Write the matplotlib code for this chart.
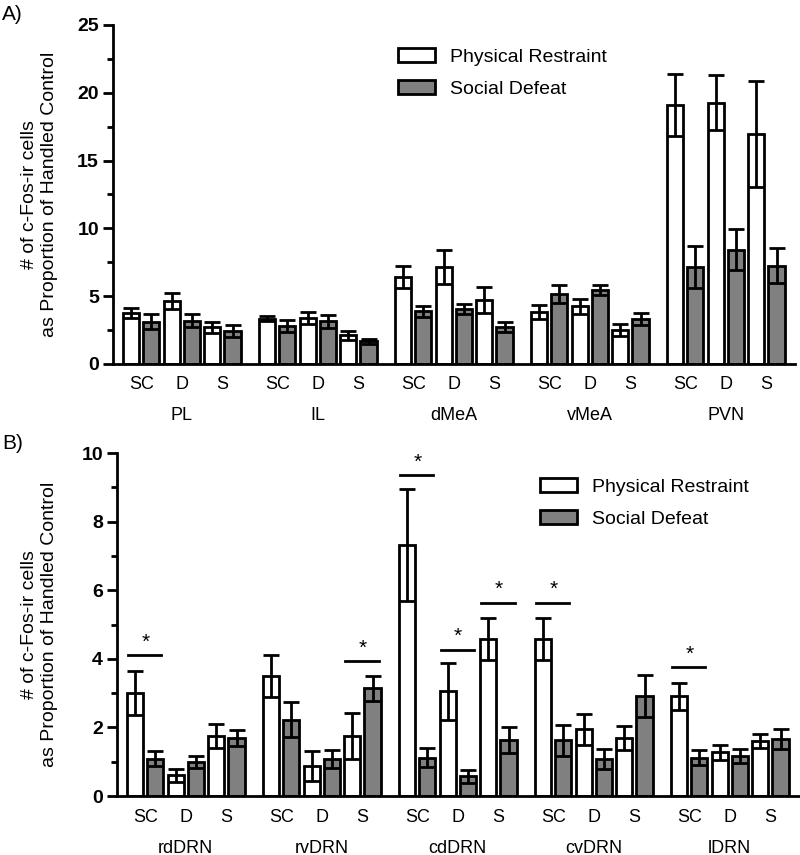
import matplotlib
matplotlib.use("Agg")
import matplotlib.pyplot as plt
import matplotlib.transforms as mtransforms
import numpy as np
from matplotlib.ticker import MultipleLocator

plt.rcParams.update({"font.family": ["Liberation Sans", "DejaVu Sans"]})

conditions = ["SC", "D", "S"]

# Panel A
regions_a = ["PL", "IL", "dMeA", "vMeA", "PVN"]
restraint_a = [3.76, 4.62, 2.70, 3.34, 3.39, 2.11, 6.41, 7.15, 4.69,
               3.83, 4.25, 2.53, 19.10, 19.28, 16.97]
restraint_a_err = [0.35, 0.60, 0.38, 0.20, 0.42, 0.33, 0.83, 1.25, 0.95,
                   0.55, 0.54, 0.44, 2.28, 2.03, 3.90]
defeat_a = [3.12, 3.19, 2.46, 2.78, 3.14, 1.67, 3.88, 4.05, 2.70,
            5.18, 5.48, 3.34, 7.12, 8.42, 7.24]
defeat_a_err = [0.55, 0.48, 0.45, 0.45, 0.50, 0.17, 0.42, 0.40, 0.37,
                0.67, 0.37, 0.45, 1.55, 1.52, 1.30]

# Panel B
regions_b = ["rdDRN", "rvDRN", "cdDRN", "cvDRN", "lDRN"]
restraint_b = [3.01, 0.60, 1.74, 3.50, 0.87, 1.76, 7.32, 3.06, 4.58,
               4.58, 1.94, 1.70, 2.91, 1.27, 1.61]
restraint_b_err = [0.65, 0.18, 0.35, 0.61, 0.43, 0.67, 1.62, 0.83, 0.61,
                   0.60, 0.45, 0.35, 0.40, 0.21, 0.20]
defeat_b = [1.09, 0.99, 1.70, 2.23, 1.09, 3.14, 1.12, 0.57, 1.63,
            1.63, 1.07, 2.91, 1.12, 1.16, 1.67]
defeat_b_err = [0.21, 0.18, 0.23, 0.51, 0.26, 0.37, 0.27, 0.18, 0.39,
                0.45, 0.29, 0.62, 0.23, 0.20, 0.29]
# significance bars: (pair index, line height)
sig_pairs_b = [0, 5, 6, 7, 8, 9, 12]
sig_heights_b = [4.11, 3.93, 9.35, 4.27, 5.64, 5.64, 3.75]

GROUP_PITCH = 6.7
BAR_W = 0.8
YLABEL = "# of c-Fos-ir cells\nas Proportion of Handled Control"


def pair_positions(n_groups):
    return np.array([g * GROUP_PITCH + 2 * i for g in range(n_groups) for i in range(3)])


def draw_panel(fig, ax, regions, white, white_err, gray, gray_err, ymax, major, minor, label_x):
    x = pair_positions(len(regions))
    ekw = dict(elinewidth=2, capsize=6, capthick=2, ecolor="black")
    ax.bar(x, white, BAR_W, yerr=white_err, color="white", edgecolor="black",
           linewidth=2, error_kw=ekw, label="Physical Restraint", zorder=2)
    ax.bar(x + 1, gray, BAR_W, yerr=gray_err, color="#808080", edgecolor="black",
           linewidth=2, error_kw=ekw, label="Social Defeat", zorder=2)
    ax.set_xlim(-0.9, 32.7)
    ax.set_ylim(0, ymax)
    ax.yaxis.set_major_locator(MultipleLocator(major))
    ax.yaxis.set_minor_locator(MultipleLocator(minor))
    ax.set_xticks(x + 0.5)
    ax.set_xticklabels(conditions * len(regions), fontsize=13)
    ax.tick_params(axis="x", length=0, pad=9)
    ax.tick_params(axis="y", which="major", length=7, width=2, labelsize=14, pad=3)
    ax.tick_params(axis="y", which="minor", length=4, width=2)
    for lab in ax.get_yticklabels():
        lab.set_fontweight("bold")
    for side in ("top", "right"):
        ax.spines[side].set_visible(False)
    for side in ("left", "bottom"):
        ax.spines[side].set_linewidth(2)
    trans = mtransforms.blended_transform_factory(ax.transData, ax.transAxes)
    trans = trans + mtransforms.ScaledTranslation(0, -52 / 100, fig.dpi_scale_trans)
    for g, name in enumerate(regions):
        ax.text(g * GROUP_PITCH + 2.5, 0, name, ha="center", va="center",
                fontsize=13, transform=trans, clip_on=False)
    ax.set_ylabel(YLABEL, fontsize=14, linespacing=1.2)
    ax.yaxis.set_label_coords(label_x, 0.5)
    return x


fig = plt.figure(figsize=(8, 8.55), dpi=100)
ax_a = fig.add_axes([0.141, 0.5743, 0.8525, 0.3965])
ax_b = fig.add_axes([0.146, 0.069, 0.8525, 0.401])

draw_panel(fig, ax_a, regions_a, restraint_a, restraint_a_err, defeat_a, defeat_a_err,
           25, 5, 2.5, -0.081)
xb = draw_panel(fig, ax_b, regions_b, restraint_b, restraint_b_err, defeat_b, defeat_b_err,
                10, 2, 1, -0.0865)

for idx, h in zip(sig_pairs_b, sig_heights_b):
    ax_b.plot([xb[idx] - 0.35, xb[idx] + 1.3], [h, h], color="black", lw=2, zorder=3)
    ax_b.text(xb[idx] + 0.5, h + 0.1, "*", ha="center", va="bottom", fontsize=15)

leg_kw = dict(frameon=False, fontsize=14, handlelength=1.9, handleheight=0.7,
              handletextpad=0.8, labelspacing=0.75, borderpad=0, borderaxespad=0,
              loc="upper left", bbox_transform=fig.transFigure)
ax_a.legend(bbox_to_anchor=(398 / 800, 1 - 48 / 855), **leg_kw)
ax_b.legend(bbox_to_anchor=(540 / 800, 1 - 478 / 855), **leg_kw)

fig.text(2 / 800, 1 - 15 / 855, "A)", fontsize=15, va="center")
fig.text(2 / 800, 1 - 443 / 855, "B)", fontsize=15, va="center")

plt.savefig("out.png", dpi=100)
plt.close()
